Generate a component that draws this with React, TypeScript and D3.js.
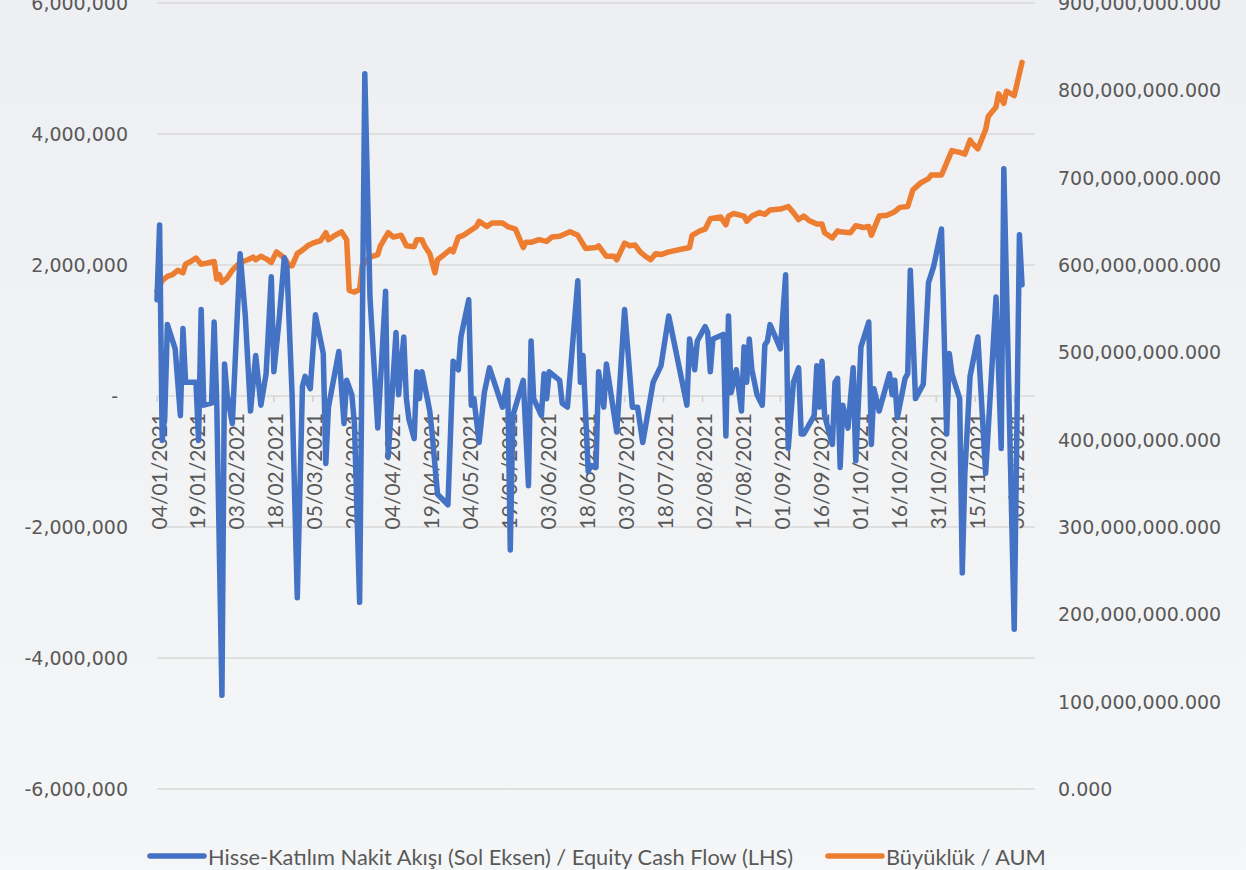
import React from 'react';
import * as d3 from 'd3';

// Hisse-Katılım nakit akışı, milyon TL (sol eksen)
const flowDates = [
  '04/01', '05/01', '06/01', '07/01', '08/01', '11/01', '13/01', '14/01', '15/01', '19/01',
  '20/01', '21/01', '22/01', '25/01', '26/01', '27/01', '29/01', '30/01', '31/01', '02/02',
  '05/02', '07/02', '09/02', '11/02', '13/02', '15/02', '17/02', '18/02', '20/02', '22/02',
  '23/02', '25/02', '27/02', '01/03', '02/03', '04/03', '06/03', '09/03', '10/03', '11/03',
  '15/03', '17/03', '18/03', '20/03', '21/03', '23/03', '25/03', '27/03', '30/03', '02/04',
  '03/04', '06/04', '07/04', '09/04', '10/04', '11/04', '13/04', '14/04', '15/04', '16/04',
  '19/04', '20/04', '22/04', '26/04', '28/04', '30/04', '01/05', '04/05', '05/05', '06/05',
  '08/05', '10/05', '12/05', '17/05', '19/05', '20/05', '21/05', '25/05', '27/05', '28/05',
  '29/05', '01/06', '02/06', '03/06', '04/06', '08/06', '09/06', '11/06', '15/06', '16/06',
  '17/06', '19/06', '20/06', '22/06', '23/06', '25/06', '26/06', '30/06', '03/07', '06/07',
  '08/07', '10/07', '14/07', '17/07', '20/07', '27/07', '28/07', '30/07', '31/07', '03/08',
  '04/08', '05/08', '06/08', '10/08', '11/08', '12/08', '13/08', '15/08', '17/08', '18/08',
  '19/08', '20/08', '21/08', '23/08', '25/08', '26/08', '27/08', '28/08', '01/09', '03/09',
  '04/09', '06/09', '08/09', '09/09', '10/09', '14/09', '15/09', '16/09', '17/09', '18/09',
  '21/09', '22/09', '23/09', '24/09', '25/09', '27/09', '29/09', '30/09', '02/10', '05/10',
  '06/10', '07/10', '09/10', '13/10', '14/10', '15/10', '16/10', '19/10', '20/10', '21/10',
  '23/10', '26/10', '28/10', '30/10', '02/11', '04/11', '05/11', '06/11', '09/11', '10/11',
  '11/11', '13/11', '16/11', '19/11', '23/11', '25/11', '26/11', '30/11', '02/12', '03/12'
];
const flowValues = [
  1.47, 2.61, -0.68, -0.3, 1.09, 0.72, -0.3, 1.03, 0.21, 0.21,
  -0.68, 1.32, -0.14, -0.11, 1.13, -0.11, -4.57, 0.49, 0.02, -0.42,
  2.17, 1.22, -0.23, 0.62, -0.14, 0.34, 1.82, 0.37, 1.16, 2.11,
  1.98, 0.02, -3.08, 0.15, 0.3, 0.11, 1.24, 0.65, -1.03, -0.17,
  0.68, -0.42, 0.24, 0.02, -0.42, -3.15, 4.92, 1.5, -0.49, 1.6,
  -0.93, 0.97, 0.02, 0.9, -0.04, -0.36, -0.65, 0.37, -0.04, 0.37,
  -0.23, -0.61, -1.5, -1.66, 0.53, 0.4, 0.9, 1.47, -0.14, -0.04,
  -0.71, 0.05, 0.43, -0.17, 0.24, -2.35, -0.3, 0.24, -1.37, 0.84,
  -0.04, -0.3, 0.34, -0.04, 0.37, 0.24, -0.11, -0.17, 1.76, 0.21,
  0.62, -1.15, -1.06, -1.09, 0.37, -0.17, 0.49, -0.55, 1.32, -0.17,
  -0.17, -0.71, 0.21, 0.46, 1.22, -0.14, 0.87, 0.4, 0.84, 1.06,
  0.97, 0.37, 0.87, 0.94, -0.61, 1.22, 0.05, 0.4, -0.23, 0.75,
  0.21, 0.87, 0.4, 0.02, -0.14, 0.78, 0.84, 1.09, 0.72, 1.85,
  -0.8, 0.21, 0.43, -0.58, -0.58, -0.3, 0.46, -0.17, 0.53, -0.3,
  -0.74, 0.21, 0.27, -1.09, -0.14, -0.49, 0.43, -0.99, 0.75, 1.13,
  -0.74, 0.11, -0.23, 0.34, 0.02, 0.24, -0.33, 0.27, 0.34, 1.92,
  -0.04, 0.18, 1.73, 1.98, 2.55, -0.58, 0.65, 0.34, -0.04, -2.7,
  -1.18, 0.3, 0.9, -1.18, 1.51, -0.8, 3.47, -3.56, 2.46, 1.7
];

// Büyüklük / AUM, milyon (sağ eksen)
const aumDates = [
  '04/01', '06/01', '08/01', '10/01', '12/01', '14/01', '15/01', '17/01', '19/01', '21/01',
  '23/01', '26/01', '27/01', '28/01', '29/01', '31/01', '02/02', '05/02', '08/02', '10/02',
  '11/02', '13/02', '15/02', '17/02', '19/02', '22/02', '24/02', '25/02', '27/02', '01/03',
  '03/03', '05/03', '08/03', '10/03', '11/03', '13/03', '16/03', '18/03', '19/03', '21/03',
  '23/03', '24/03', '26/03', '27/03', '30/03', '31/03', '03/04', '05/04', '08/04', '10/04',
  '13/04', '14/04', '16/04', '17/04', '19/04', '21/04', '22/04', '25/04', '27/04', '28/04',
  '30/04', '02/05', '04/05', '07/05', '08/05', '11/05', '13/05', '17/05', '19/05', '22/05',
  '24/05', '25/05', '26/05', '28/05', '31/05', '03/06', '05/06', '08/06', '12/06', '15/06',
  '18/06', '22/06', '23/06', '26/06', '29/06', '30/06', '03/07', '05/07', '07/07', '09/07',
  '11/07', '13/07', '15/07', '17/07', '20/07', '28/07', '29/07', '01/08', '03/08', '05/08',
  '09/08', '11/08', '12/08', '14/08', '18/08', '19/08', '21/08', '24/08', '26/08', '28/08',
  '01/09', '04/09', '06/09', '08/09', '10/09', '12/09', '15/09', '17/09', '18/09', '21/09',
  '23/09', '24/09', '28/09', '30/09', '03/10', '05/10', '06/10', '09/10', '12/10', '15/10',
  '17/10', '20/10', '22/10', '25/10', '28/10', '29/10', '02/11', '04/11', '06/11', '09/11',
  '11/11', '13/11', '14/11', '16/11', '19/11', '20/11', '23/11', '24/11', '26/11', '27/11',
  '30/11', '03/12'
];
const aumValues = [
  570, 582, 587, 589, 594, 591, 601, 604, 608, 601,
  602, 604, 584, 589, 580, 585, 594, 603, 606, 609,
  606, 610, 607, 603, 615, 608, 599, 599, 613, 617,
  622, 625, 628, 637, 629, 633, 638, 629, 571, 569,
  572, 599, 606, 609, 612, 622, 637, 632, 634, 622,
  621, 629, 629, 622, 613, 591, 606, 613, 618, 615,
  632, 634, 638, 644, 650, 644, 648, 648, 644, 641,
  627, 620, 626, 626, 629, 627, 632, 633, 638, 634,
  619, 620, 622, 610, 610, 606, 625, 622, 623, 615,
  610, 606, 613, 612, 615, 620, 634, 639, 641, 653,
  655, 646, 656, 659, 656, 650, 656, 660, 658, 663,
  664, 667, 660, 652, 656, 651, 647, 647, 637, 631,
  639, 638, 637, 645, 643, 644, 634, 656, 657, 661,
  666, 667, 686, 694, 699, 703, 703, 717, 731, 729,
  727, 743, 739, 733, 755, 770, 781, 796, 785, 799,
  794, 832
];

const leftTicks = [-6, -4, -2, 0, 2, 4, 6];
const rightTicks = [0, 100, 200, 300, 400, 500, 600, 700, 800, 900];
const seriesNames = ['Hisse-Katılım Nakit Akışı (Sol Eksen) / Equity Cash Flow (LHS)', 'Büyüklük / AUM'];
const seriesColors = ['#4472c4', '#ed7d31'];

const parseDay = d3.timeParse('%d/%m/%Y');
const toDate = (s: string) => parseDay(s + '/2021') as Date;
// Excel style: plain hyphen for negatives
const locale = d3.formatLocale({ decimal: '.', thousands: ',', grouping: [3], currency: ['', ''], minus: '-' });

export default function App() {
  const start = toDate('04/01');
  const x = d3.scaleTime().domain([start, d3.timeDay.offset(start, 338)]).range([157, 1035]);
  const yL = d3.scaleLinear().domain([-6, 6]).range([789, 3]);
  const yR = d3.scaleLinear().domain([0, 900]).range([789, 3]);
  const xTicks = d3.timeDay.range(start, d3.timeDay.offset(start, 331), 15);
  const fmtDay = d3.timeFormat('%d/%m/%Y');

  const flowPts = flowDates.map((d, i) => [x(toDate(d)), yL(flowValues[i])] as [number, number]);
  const aumPts = aumDates.map((d, i) => [x(toDate(d)), yR(aumValues[i])] as [number, number]);
  const line = d3.line();

  const axisFont = 'DejaVu Sans, sans-serif';
  const labelFont = 'Lato, sans-serif';
  const grey = '#595959';
  const y0 = yL(0);

  return (
    <svg width={1246} height={870} style={{ position: 'absolute', left: 0, top: 0 }}>
      <defs>
        <linearGradient id="bg" x1="0" y1="0" x2="0" y2="1">
          <stop offset="0" stopColor="#edeff2" />
          <stop offset="1" stopColor="#f5f6f7" />
        </linearGradient>
      </defs>
      <rect width={1246} height={870} fill="url(#bg)" />

      {leftTicks.map(t => (
        <line key={'g' + t} x1={157} x2={1035} y1={yL(t)} y2={yL(t)} stroke="#d9d9d9" strokeWidth={1.5} />
      ))}
      {xTicks.map(t => (
        <line key={'t' + t.getTime()} x1={x(t)} x2={x(t)} y1={y0} y2={y0 + 6} stroke="#d0d0d0" strokeWidth={1.5} />
      ))}

      {leftTicks.map(t => (
        <text key={'l' + t} x={t === 0 ? 118 : 128} y={yL(t)} textAnchor="end" dominantBaseline="central"
          fontFamily={axisFont} fontSize={19} fill={grey}>
          {t === 0 ? '-' : locale.format(',')(t * 1e6)}
        </text>
      ))}
      {rightTicks.map(t => (
        <text key={'r' + t} x={1058} y={yR(t)} dominantBaseline="central"
          fontFamily={axisFont} fontSize={19} fill={grey}>
          {locale.format(',.3f')(t * 1e6)}
        </text>
      ))}

      {xTicks.map(t => (
        <text key={'x' + t.getTime()} transform={`translate(${x(t) + 1},413) rotate(-90)`}
          textAnchor="end" dominantBaseline="central" fontFamily={labelFont} fontSize={21} fill={grey}>
          {fmtDay(t)}
        </text>
      ))}

      <path d={line(aumPts) || ''} fill="none" stroke={seriesColors[1]} strokeWidth={5.5}
        strokeLinejoin="round" strokeLinecap="round" />
      <path d={line(flowPts) || ''} fill="none" stroke={seriesColors[0]} strokeWidth={5.5}
        strokeLinejoin="round" strokeLinecap="round" />

      <g fontFamily={labelFont} fontSize={21.8} fill={grey}>
        <line x1={150} x2={204} y1={856} y2={856} stroke={seriesColors[0]} strokeWidth={5.5} strokeLinecap="round" />
        <text x={208} y={856} dominantBaseline="central">{seriesNames[0]}</text>
        <line x1={828} x2={882} y1={856} y2={856} stroke={seriesColors[1]} strokeWidth={5.5} strokeLinecap="round" />
        <text x={886} y={856} dominantBaseline="central">{seriesNames[1]}</text>
      </g>
    </svg>
  );
}
